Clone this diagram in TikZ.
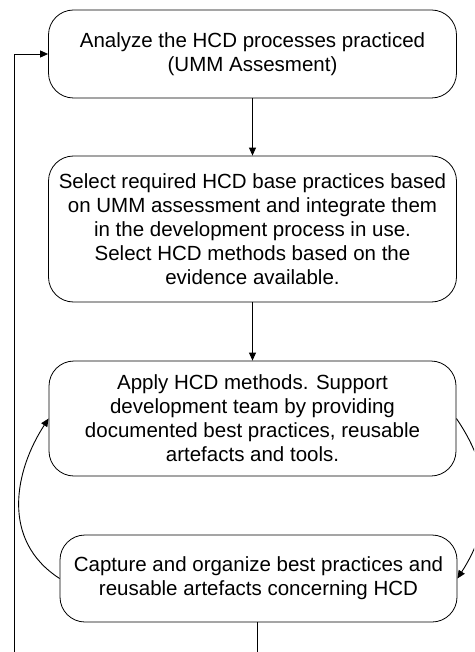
\documentclass[tikz,border=0pt]{standalone}
\usepackage{fontspec}
\setmainfont{Liberation Sans}
\usetikzlibrary{arrows.meta}

\begin{document}
\begin{tikzpicture}[
  x=1pt, y=-1pt,
  stage/.style={draw=black, line width=0.8pt, rounded corners=25pt,
    align=center, inner sep=0pt, font=\fontsize{20.5}{24}\selectfont},
  arr/.style={draw=black, line width=0.9pt,
    -{Triangle[length=8pt,width=7pt]}},
  link/.style={draw=black, line width=0.9pt}
]
\path[use as bounding box, clip] (0,0) rectangle (474,652);

% process stages
\node[stage, minimum width=408pt, minimum height=88pt] (b1) at (252.5,54)
  {Analyze the HCD processes practiced\\(UMM Assesment)};
\node[stage, minimum width=408pt, minimum height=146pt] (b2) at (252.5,229)
  {Select required HCD base practices based\\on UMM assessment and integrate them\\in the development process in use.\\Select HCD methods based on the\\evidence available.};
\node[stage, minimum width=407pt, minimum height=115pt] (b3) at (252.5,418.5)
  {Apply HCD methods. Support\\development team by providing\\documented best practices, reusable\\artefacts and tools.};
\node[stage, minimum width=397pt, minimum height=87pt] (b4) at (258.5,578.5)
  {Capture and organize best practices and\\reusable artefacts concerning HCD};

% main flow
\draw[arr] (b1.south) -- (b2.north);
\draw[arr] (b2.south) -- (b3.north);

% inner cycle between applying and capturing
\draw[arr] (b3.east) .. controls (495,475) and (492,525) .. (b4.east);
\draw[arr] (b4.west) .. controls (0,540) and (15,470) .. (b3.west);

% outer feedback loop back to the analysis
\coordinate (low) at (257,652);
\coordinate (back) at (14,652);
\draw[link] (b4.south -| low) -- (low);
\draw[arr] (back) |- (b1.west);
\end{tikzpicture}
\end{document}
